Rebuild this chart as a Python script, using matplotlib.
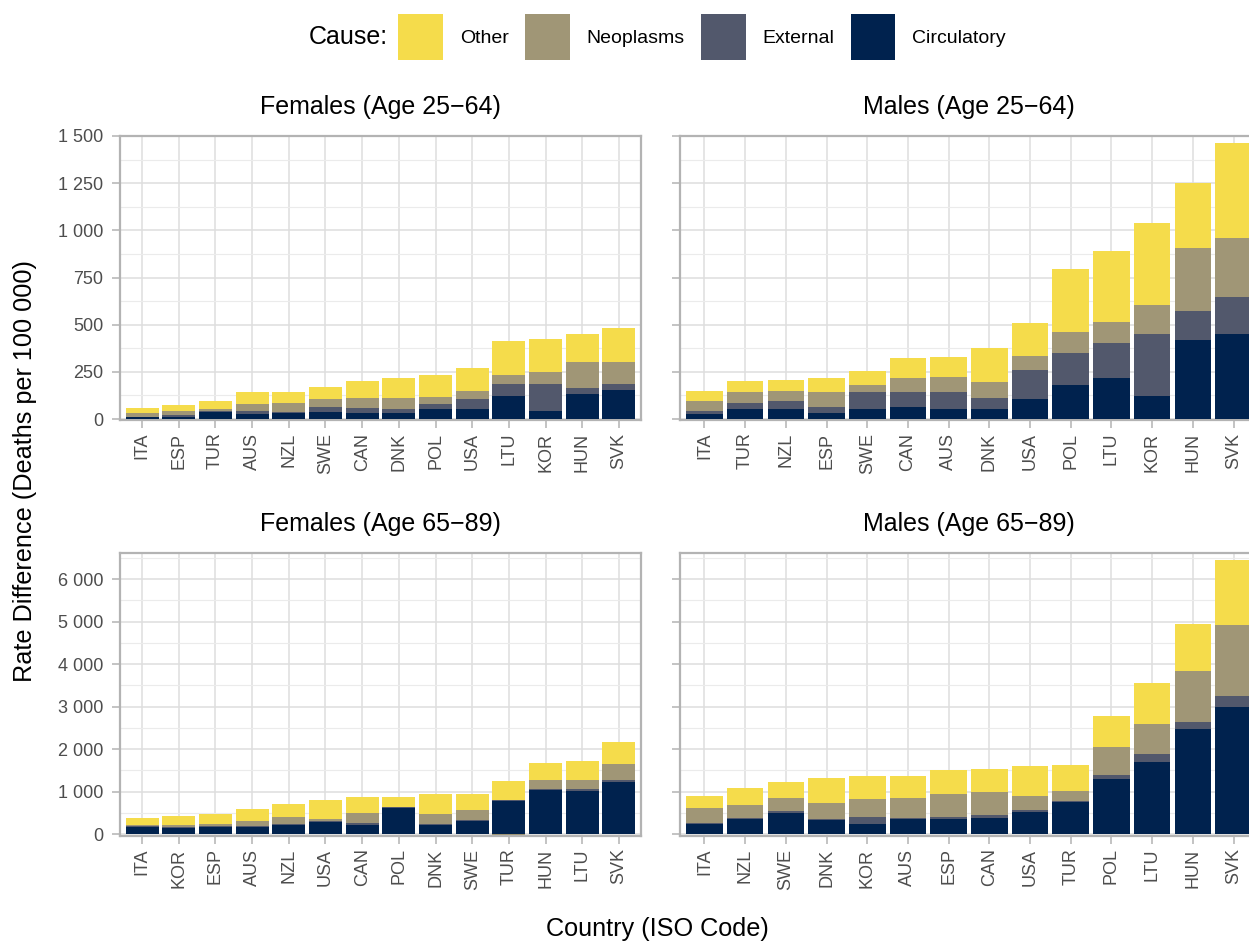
import numpy as np
import matplotlib
matplotlib.use("Agg")
from matplotlib import pyplot as plt
from matplotlib.patches import Patch
from matplotlib.ticker import FuncFormatter, MultipleLocator

plt.rcParams['font.family'] = ['Liberation Sans', 'DejaVu Sans']

causes = ["Other", "Neoplasms", "External", "Circulatory"]
cause_colors = {"Other": "#F5DC4B", "Neoplasms": "#A09676",
                "External": "#52586C", "Circulatory": "#00224E"}

# Females 25-64
f_young_countries = ["ITA", "ESP", "TUR", "AUS", "NZL", "SWE", "CAN", "DNK", "POL", "USA", "LTU", "KOR", "HUN", "SVK"]
f_young_circ = [9, 12, 37, 26, 32, 37, 32, 32, 53, 53, 121, 42, 131, 152]
f_young_ext = [4, 9, 5, 16, 5, 26, 26, 21, 26, 53, 63, 142, 32, 32]
f_young_neo = [19, 21, 10, 37, 47, 42, 53, 58, 37, 42, 47, 68, 137, 116]
f_young_oth = [26, 32, 42, 63, 58, 63, 89, 105, 116, 121, 184, 173, 152, 184]

# Males 25-64
m_young_countries = ["ITA", "TUR", "NZL", "ESP", "SWE", "CAN", "AUS", "DNK", "USA", "POL", "LTU", "KOR", "HUN", "SVK"]
m_young_circ = [28, 55, 55, 34, 55, 65, 55, 55, 108, 182, 219, 124, 421, 453]
m_young_ext = [16, 32, 42, 32, 90, 80, 90, 58, 154, 170, 186, 329, 149, 196]
m_young_neo = [53, 58, 53, 80, 37, 74, 80, 85, 74, 111, 111, 149, 334, 308]
m_young_oth = [53, 58, 58, 69, 74, 106, 106, 180, 175, 334, 372, 435, 345, 504]

# Females 65-89
f_old_countries = ["ITA", "KOR", "ESP", "AUS", "NZL", "USA", "CAN", "POL", "DNK", "SWE", "TUR", "HUN", "LTU", "SVK"]
f_old_circ = [172, 148, 172, 172, 219, 289, 219, 617, 219, 312, 773, 1039, 1015, 1226]
f_old_ext = [16, 23, 8, 8, 23, 8, 31, 8, 8, 23, 31, 23, 47, 47]
f_old_neo = [31, 47, 62, 133, 164, 62, 250, 16, 250, 234, -20, 211, 211, 375]
f_old_oth = [164, 211, 234, 281, 305, 445, 375, 234, 469, 375, 445, 398, 445, 515]

# Males 65-89
m_old_countries = ["ITA", "NZL", "SWE", "DNK", "KOR", "AUS", "ESP", "CAN", "USA", "TUR", "POL", "LTU", "HUN", "SVK"]
m_old_circ = [234, 352, 492, 328, 234, 352, 352, 375, 515, 750, 1289, 1687, 2460, 2999]
m_old_ext = [23, 23, 47, 23, 164, 23, 47, 70, 47, 23, 94, 187, 164, 258]
m_old_neo = [352, 305, 305, 375, 422, 469, 539, 539, 328, 234, 656, 703, 1218, 1664]
m_old_oth = [281, 398, 375, 586, 539, 515, 562, 539, 703, 609, 726, 984, 1101, 1523]

panels = [
    ("Females (Age 25\u221264)", f_young_countries, [f_young_circ, f_young_ext, f_young_neo, f_young_oth]),
    ("Males (Age 25\u221264)", m_young_countries, [m_young_circ, m_young_ext, m_young_neo, m_young_oth]),
    ("Females (Age 65\u221289)", f_old_countries, [f_old_circ, f_old_ext, f_old_neo, f_old_oth]),
    ("Males (Age 65\u221289)", m_old_countries, [m_old_circ, m_old_ext, m_old_neo, m_old_oth]),
]
stack_order = ["Circulatory", "External", "Neoplasms", "Other"]

W, H = 1249, 941
fig = plt.figure(figsize=(W / 100, H / 100), dpi=100)

# panel boxes in pixels: left, right, top, bottom
boxes = [(120, 641, 136, 420), (680, 1258, 136, 420),
         (120, 641, 553, 836), (680, 1258, 553, 836)]
ylims = [(-5, 1500), (-5, 1500), (-47, 6612), (-47, 6612)]
majors = [250, 250, 1000, 1000]

grid_col = "#DEDEDE"
frame_col = "#B3B3B3"
text_col = "#4D4D4D"


def thousands(v, pos):
    return f"{int(round(v)):,}".replace(",", " ")


for i, (title, countries, series) in enumerate(panels):
    l, r, t, b = boxes[i]
    ax = fig.add_axes([l / W, 1 - b / H, (r - l) / W, (b - t) / H])
    x = np.arange(len(countries))
    pos_base = np.zeros(len(countries))
    neg_base = np.zeros(len(countries))
    for name, vals in zip(stack_order, series):
        v = np.array(vals, dtype=float)
        bottom = np.where(v >= 0, pos_base, neg_base)
        ax.bar(x, v, width=0.9, bottom=bottom, color=cause_colors[name],
               linewidth=0, zorder=3)
        pos_base += np.clip(v, 0, None)
        neg_base += np.clip(v, None, 0)
    ax.set_xlim(-0.6, len(countries) - 0.4)
    ax.set_ylim(*ylims[i])
    ax.set_xticks(x)
    ax.set_xticklabels(countries, rotation=90, fontsize=13, color=text_col)
    ax.yaxis.set_major_locator(MultipleLocator(majors[i]))
    ax.yaxis.set_minor_locator(MultipleLocator(majors[i] / 2))
    ax.yaxis.set_major_formatter(FuncFormatter(thousands))
    ax.tick_params(axis='y', which='major', labelsize=13, labelcolor=text_col,
                   color=frame_col, length=6, width=1.1, pad=6)
    ax.tick_params(axis='y', which='minor', length=0)
    ax.tick_params(axis='x', labelsize=13, color=frame_col, length=6, width=1.1, pad=3)
    if i % 2 == 1:
        ax.tick_params(axis='y', labelleft=False)
    ax.grid(True, which='major', color=grid_col, linewidth=1.1, zorder=0)
    ax.grid(True, which='minor', axis='y', color="#EBEBEB", linewidth=0.8, zorder=0)
    ax.set_axisbelow(True)
    for s in ax.spines.values():
        s.set_color(frame_col)
        s.set_linewidth(1.6)
    ax.set_title(title, fontsize=18, color="black", pad=16)

fig.text(25 / W, 1 - 471 / H, "Rate Difference (Deaths per 100 000)", rotation=90,
         ha='center', va='center', fontsize=18.2)
fig.text(657 / W, 1 - 929 / H, "Country (ISO Code)", ha='center', va='center', fontsize=18.2)

handles = [Patch(facecolor=cause_colors[c], edgecolor='none') for c in causes]
fig.legend(handles, causes, loc='center', bbox_to_anchor=(702 / W, 1 - 37 / H),
           ncol=4, frameon=False, fontsize=14, handlelength=2.3, handleheight=3.2,
           handletextpad=0.85, columnspacing=0.85, borderaxespad=0, borderpad=0)
fig.text(388 / W, 1 - 37 / H, "Cause:", ha='right', va='center', fontsize=18)

fig.savefig("out.png", dpi=100)
